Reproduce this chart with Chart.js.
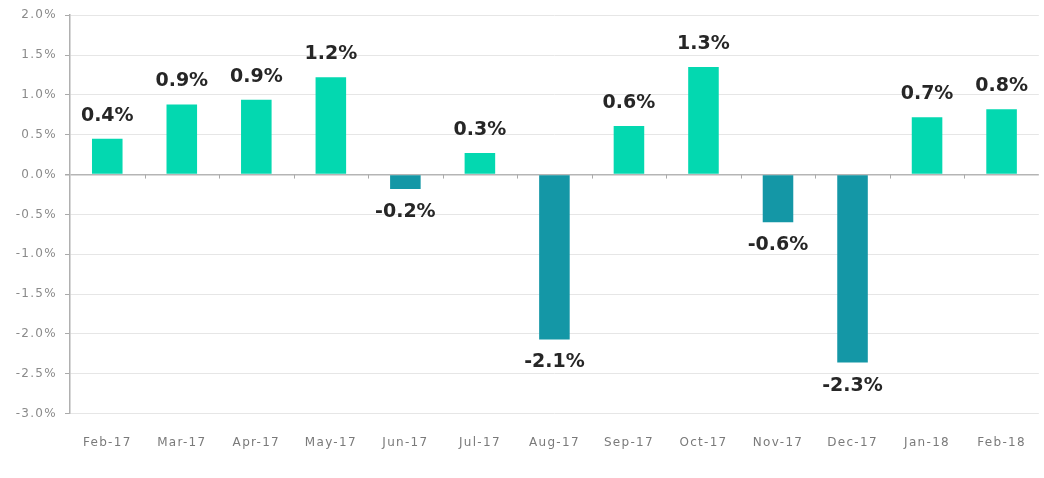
<!DOCTYPE html>
<html><head><meta charset="utf-8">
<script src="https://cdn.jsdelivr.net/npm/chart.js@4/dist/chart.umd.min.js"></script>
<style>html,body{margin:0;padding:0;background:#fff;overflow:hidden}canvas{display:block}</style>
</head><body><canvas id="c" width="1044" height="478" style="width:1044px;height:478px"></canvas>
<script>
const categories = ["Feb-17","Mar-17","Apr-17","May-17","Jun-17","Jul-17","Aug-17","Sep-17","Oct-17","Nov-17","Dec-17","Jan-18","Feb-18"];
const values = [0.45, 0.88, 0.94, 1.22, -0.18, 0.27, -2.07, 0.61, 1.35, -0.60, -2.36, 0.72, 0.82];
const valueLabels = ["0.4%","0.9%","0.9%","1.2%","-0.2%","0.3%","-2.1%","0.6%","1.3%","-0.6%","-2.3%","0.7%","0.8%"];
const posColor = "#03d8b0";
const negColor = "#1497a6";

const spacingPlugin = {
  id: 'spacing',
  beforeInit(chart) { chart.ctx.letterSpacing = '1.3px'; },
  beforeDraw(chart) { chart.ctx.letterSpacing = '1.3px'; }
};

const labelPlugin = {
  id: 'valLabels',
  afterDatasetsDraw(chart) {
    const ctx = chart.ctx;
    const meta = chart.getDatasetMeta(0);
    const y = chart.scales.y, x = chart.scales.x;
    const zero = y.getPixelForValue(0);
    ctx.save();
    ctx.letterSpacing = '0px';
    ctx.strokeStyle = '#aaa'; ctx.lineWidth = 1;
    for (let i = 1; i < categories.length; i++) {
      const px = Math.round((x.getPixelForValue(i - 1) + x.getPixelForValue(i)) / 2) + 0.5;
      ctx.beginPath(); ctx.moveTo(px, zero); ctx.lineTo(px, zero + 4); ctx.stroke();
    }
    ctx.font = 'bold 19px "DejaVu Sans"';
    ctx.fillStyle = '#262626';
    ctx.textAlign = 'center';
    ctx.textBaseline = 'middle';
    meta.data.forEach((bar, i) => {
      const v = values[i];
      const ty = v >= 0 ? bar.y - 23 : bar.y + 23;
      ctx.fillText(valueLabels[i], bar.x, ty);
    });
    ctx.restore();
  }
};

new Chart(document.getElementById('c'), {
  type: 'bar',
  data: {
    labels: categories,
    datasets: [{
      data: values,
      backgroundColor: values.map(v => v >= 0 ? posColor : negColor),
      barPercentage: 0.82,
      categoryPercentage: 0.5
    }]
  },
  options: {
    responsive: false,
    maintainAspectRatio: false,
    animation: false,
    layout: { padding: { top: 5, right: 0, bottom: 6, left: 0 } },
    plugins: { legend: { display: false }, tooltip: { enabled: false } },
    scales: {
      x: {
        grid: { display: false, drawTicks: false },
        border: { display: false },
        ticks: { color: '#7a7a7a', font: { family: 'DejaVu Sans', size: 12 }, padding: 22, maxRotation: 0 }
      },
      y: {
        min: -3, max: 2,
        afterFit(s) { s.width = 70; },
        grid: {
          color: ctx => ctx.tick && ctx.tick.value === 0 ? '#b5b5b5' : '#e6e6e6',
          lineWidth: ctx => ctx.tick && ctx.tick.value === 0 ? 1.5 : 1,
          tickLength: 5,
          tickColor: '#aaa'
        },
        border: { color: '#b0b0b0', width: 1.5 },
        ticks: {
          stepSize: 0.5,
          color: '#8a8a8a',
          font: { family: 'DejaVu Sans', size: 12 },
          padding: 8,
          callback: v => v.toFixed(1) + '%'
        }
      }
    }
  },
  plugins: [spacingPlugin, labelPlugin]
});
</script></body></html>
